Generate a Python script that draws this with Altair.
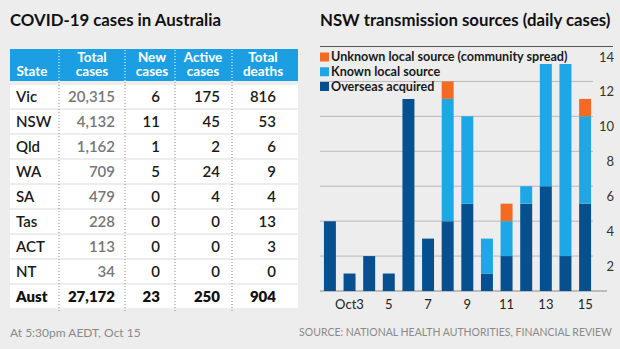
import altair as alt
import pandas as pd

# ---------------- data ----------------
states = ["Vic", "NSW", "Qld", "WA", "SA", "Tas", "ACT", "NT", "Aust"]
total_cases = [20315, 4132, 1162, 709, 479, 228, 113, 34, 27172]
new_cases = [6, 11, 1, 5, 0, 0, 0, 0, 23]
active_cases = [175, 45, 2, 24, 4, 0, 0, 0, 250]
total_deaths = [816, 53, 6, 9, 4, 13, 3, 0, 904]

days = [2, 3, 4, 5, 6, 7, 8, 9, 10, 11, 12, 13, 14, 15]
overseas = [4, 1, 2, 1, 11, 3, 4, 5, 1, 2, 5, 6, 2, 5]
known_local = [0, 0, 0, 0, 0, 0, 7, 5, 2, 2, 1, 7, 11, 5]
unknown_local = [0, 0, 0, 0, 0, 0, 1, 0, 0, 1, 0, 0, 0, 1]

sources = ["Unknown local source (community spread)", "Known local source", "Overseas acquired"]
source_colors = ["#f26b21", "#1ea7e6", "#07508f"]

tick_days = [3, 5, 7, 9, 11, 13, 15]
tick_labels = ["Oct3", "5", "7", "9", "11", "13", "15"]
y_ticks = [2, 4, 6, 8, 10, 12, 14]

FONT = "Lato"
BG = "#ededed"

# ---------------- tables ----------------
tbl = pd.DataFrame({"state": states, "total": total_cases, "new": new_cases,
                    "active": active_cases, "deaths": total_deaths})
bars = pd.DataFrame({
    "day": days * 3,
    "source": [sources[2]] * 14 + [sources[1]] * 14 + [sources[0]] * 14,
    "order": [0] * 14 + [1] * 14 + [2] * 14,
    "value": overseas + known_local + unknown_local,
})
ticks = pd.DataFrame({"day": tick_days, "label": tick_labels})
yt = pd.DataFrame({"v": y_ticks})
leg = pd.DataFrame({"source": sources})

row_scale = alt.Scale(domain=states, range=[84, 309], paddingInner=0.08, paddingOuter=0.04)
rowY = alt.Y("state:N", scale=row_scale, axis=None)

base_t = alt.Chart(tbl)

rows = base_t.mark_rect(color="white").encode(
    x=alt.value(10), x2=alt.value(298), y=rowY)

header = alt.Chart(pd.DataFrame({"a": [0]})).mark_rect(color="#1b9fe2").encode(
    x=alt.value(10), x2=alt.value(298), y=alt.value(49), y2=alt.value(81))

seps = []
for sx in [59, 125, 175, 232]:
    seps.append(alt.Chart(pd.DataFrame({"a": [0]})).mark_rule(
        color="#e8f4fc", strokeDash=[1, 2], strokeWidth=1.2).encode(
        x=alt.value(sx), y=alt.value(50), y2=alt.value(81)))
    seps.append(alt.Chart(pd.DataFrame({"a": [0]})).mark_rule(
        color="#9a9a9a", strokeDash=[1, 2], strokeWidth=1.2).encode(
        x=alt.value(sx), y=alt.value(82), y2=alt.value(311)))

header_texts = []
head = [("", "State", 32), ("Total", "cases", 92), ("New", "cases", 152),
        ("Active", "cases", 203), ("Total", "deaths", 263)]
for l1, l2, cx in head:
    for txt, yy in [(l1, 57.5), (l2, 72)]:
        if txt:
            header_texts.append(alt.Chart(pd.DataFrame({"t": [txt]})).mark_text(
                font=FONT, fontSize=13.5, fontWeight="bold", color="white",
                align="center", baseline="middle").encode(
                x=alt.value(cx), y=alt.value(yy), text="t:N"))

body = []
not_aust = alt.datum.state != "Aust"
is_aust = alt.datum.state == "Aust"
body.append(base_t.transform_filter(not_aust).mark_text(
    font=FONT, fontSize=15, fontWeight=600, color="#1a1a1a", align="left", baseline="middle").encode(
    x=alt.value(16), y=rowY, text="state:N"))
body.append(base_t.transform_filter(is_aust).mark_text(
    font=FONT, fontSize=15, fontWeight=800, color="#111", align="left", baseline="middle").encode(
    x=alt.value(16), y=rowY, text="state:N"))
for col, rx, gray in [("total", 115, True), ("new", 160, False),
                      ("active", 220, False), ("deaths", 276, False)]:
    body.append(base_t.transform_filter(not_aust).mark_text(
        font=FONT, fontSize=15, fontWeight=600, color="#777777" if gray else "#1a1a1a",
        align="right", baseline="middle").encode(
        x=alt.value(rx), y=rowY, text=alt.Text(f"{col}:Q", format=",")))
    body.append(base_t.transform_filter(is_aust).mark_text(
        font=FONT, fontSize=15, fontWeight=800, color="#111",
        align="right", baseline="middle").encode(
        x=alt.value(rx), y=rowY, text=alt.Text(f"{col}:Q", format=",")))

# ---------------- bar chart ----------------
xs = alt.Scale(domain=days, range=[320, 595], paddingInner=0.39, paddingOuter=0.2)
ys = alt.Scale(domain=[0, 14], range=[291, 46.5], nice=False, zero=True)

grid = alt.Chart(yt).transform_filter(alt.datum.v < 14).mark_rule(
    color="#b8b8b8", strokeWidth=1).encode(
    y=alt.Y("v:Q", scale=ys, axis=None), x=alt.value(320), x2=alt.value(593))
topline = alt.Chart(pd.DataFrame({"v": [14]})).mark_rule(color="#555", strokeWidth=1.2).encode(
    y=alt.Y("v:Q", scale=ys, axis=None), x=alt.value(320), x2=alt.value(613))
baseline = alt.Chart(pd.DataFrame({"v": [0]})).mark_rule(color="#8a8a8a", strokeWidth=1.2).encode(
    y=alt.Y("v:Q", scale=ys, axis=None), x=alt.value(320), x2=alt.value(607))

barchart = alt.Chart(bars).mark_bar().encode(
    x=alt.X("day:O", scale=xs, axis=None),
    y=alt.Y("value:Q", scale=ys, axis=None, stack="zero"),
    color=alt.Color("source:N", scale=alt.Scale(domain=sources, range=source_colors), legend=None),
    order=alt.Order("order:Q"),
)

ylabels = alt.Chart(yt).mark_text(font=FONT, fontSize=13, color="#333", align="right",
                                  baseline="middle", dy=11).encode(
    y=alt.Y("v:Q", scale=ys, axis=None), x=alt.value(614), text="v:Q")

xlabels = alt.Chart(ticks).mark_text(font=FONT, fontSize=13, color="#222", align="center",
                                     baseline="middle").encode(
    x=alt.X("day:O", scale=xs, axis=None), y=alt.value(305), text="label:N")

legY = alt.Y("source:N", scale=alt.Scale(domain=sources, type="point", range=[57, 86.5], padding=0),
             axis=None)
leg_sq = alt.Chart(leg).mark_square(size=81, opacity=1, filled=True).encode(
    x=alt.value(324.5), y=legY,
    color=alt.Color("source:N", scale=alt.Scale(domain=sources, range=source_colors), legend=None))
leg_tx = alt.Chart(leg).mark_text(font=FONT, fontSize=12.6, fontWeight="bold", color="#1a1a1a",
                                  align="left", baseline="middle").encode(
    x=alt.value(331), y=legY, text="source:N")

# ---------------- titles / notes ----------------
def label(txt, x, y, size, weight="normal", color="#111", align="left", font=FONT):
    return alt.Chart(pd.DataFrame({"t": [txt]})).mark_text(
        font=font, fontSize=size, fontWeight=weight, color=color, align=align,
        baseline="middle").encode(x=alt.value(x), y=alt.value(y), text="t:N")

t1 = label("COVID-19 cases in Australia", 10, 21, 16.8, "bold")
t2 = label("NSW transmission sources (daily cases)", 320, 21, 16.8, "bold")
f1 = label("At 5:30pm AEDT, Oct 15", 10, 333, 12, color="#8a8a8a")
f2 = label("SOURCE: NATIONAL HEALTH AUTHORITIES, FINANCIAL REVIEW", 612, 333, 10.5,
           color="#8a8a8a", align="right")

layers = [rows, header] + seps + header_texts + body + [grid, baseline, barchart, topline,
          ylabels, xlabels, leg_sq, leg_tx, t1, t2, f1, f2]

chart = alt.layer(*layers).resolve_scale(
    x="independent", y="independent", color="independent"
).properties(
    width=620, height=349, background=BG, padding=0,
    autosize=alt.AutoSizeParams(type="none"),
).configure_view(stroke=None)

chart.save("out.html", embed_options={"renderer": "svg", "actions": False})
